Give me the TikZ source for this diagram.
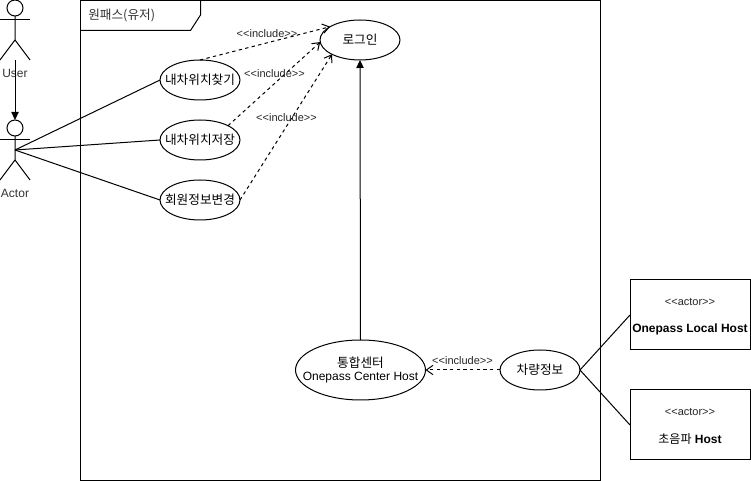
\documentclass[tikz,border=0pt]{standalone}
\usepackage{fontspec}
\setmainfont{Liberation Sans}
\newfontfamily\kr{Noto Sans CJK KR}
\usetikzlibrary{calc,shapes.geometric,arrows.meta}
\newcommand{\stereo}[1]{<{}<#1>{}>}
\tikzset{
  usecase/.style={ellipse,draw,line width=0.75pt,fill=white,minimum width=#1*0.75pt,minimum height=30pt,inner xsep=-15pt,inner ysep=0pt,outer sep=0pt,align=center,font=\fontsize{9.5}{11}\selectfont},
  usecase/.default=80,
  hostbox/.style={rectangle,draw,line width=0.75pt,fill=white,minimum width=90pt,minimum height=52.5pt,inner sep=0pt,outer sep=0pt},
  hostname/.style={inner sep=0pt,font=\fontsize{9}{11}\selectfont\bfseries},
  head/.style={circle,draw,line width=0.75pt,minimum size=12pt,inner sep=0pt,outer sep=0pt},
  actorlabel/.style={inner sep=0pt,font=\fontsize{9}{11}\selectfont,text=black!80},
  stereotype/.style={inner sep=0pt,font=\fontsize{8.25}{9}\selectfont,text=black!85},
  incl/.style={line width=0.75pt,dash pattern=on 2.5pt off 2.5pt,-{Straight Barb[length=5pt,width=7pt]}},
  assoc/.style={line width=0.75pt},
  solidtip/.style={line width=0.75pt,-{Triangle[length=6pt,width=5.5pt]}}
}
\begin{document}
\begin{tikzpicture}[x=0.75pt,y=-0.75pt]
      \useasboundingbox(0,0)rectangle(751,481);
      \draw[line width=0.75pt](80.5,0.5)rectangle(600.5,480.5);
      \draw[line width=0.75pt](80.5,30.5)--(190.5,30.5)--(200.5,15)--(200.5,0.5);
      \node[anchor=west,inner sep=0pt,font=\fontsize{9.5}{11}\selectfont\kr,text=black!80](frametitle)at(88,16){원패스(유저)};
      \foreach \nm/\yy/\lab in{user/0/User,actor/120/Actor}{
        \node[head](\nm-head)at(15,\yy+8){};
        \coordinate(\nm-mid)at(15,\yy+30);
        \coordinate(\nm-hip)at(15,\yy+40);
        \coordinate(\nm-foot)at(15,\yy+60);
        \draw[assoc](\nm-head.south)--(\nm-hip)--(0,\yy+60);
        \draw[assoc](\nm-hip)--(30,\yy+60);
        \draw[assoc](0,\yy+20)--(30,\yy+20);
        \node[actorlabel](\nm-label)at(15,\yy+73){\lab};
      }
      \node[usecase](find)at(200,80){\kr 내차위치찾기};
      \node[usecase](save)at(200,140){\kr 내차위치저장};
      \node[usecase](member)at(200,200){\kr 회원정보변경};
      \node[usecase](login)at(360,40){\kr 로그인};
      \node[usecase=130,minimum height=45pt](center)at(360.5,370){{\kr 통합센터}\\[-1.5pt]{\fontsize{9}{11}\selectfont Onepass Center Host}};
      \node[usecase](car)at(540,370){\kr 차량정보};
      \node[hostbox](localhost)at(690,315){};
      \node[hostbox](sonichost)at(690,425){};
      \node[stereotype](localtype)at(690,302){\stereo{actor}};
      \node[hostname](localname)at(690,329.5){Onepass Local Host};
      \node[stereotype](sonictype)at(690,411.5){\stereo{actor}};
      \node[hostname](sonicname)at(690,439){{\kr\mdseries 초음파} Host};
      \draw[solidtip](user-foot)--(actor-head.north);
      \draw[assoc](actor-mid)--(find.west);
      \draw[assoc](actor-mid)--(save.west);
      \draw[assoc](actor-mid)--(member.west);
      \draw[incl](find.north)--(login.156);
      \draw[incl](save.27)--(login.183);
      \draw[incl](member.east)--(login.207);
      \draw[solidtip](center.north)--(login.south);
      \draw[incl](car.west)--(center.east);
      \draw[assoc](car.east)--(localhost.west);
      \draw[assoc](car.east)--(sonichost.west);
      \node[stereotype](include1)at(267,34){\stereo{include}};
      \node[stereotype](include2)at(274.5,74){\stereo{include}};
      \node[stereotype](include3)at(286.5,118){\stereo{include}};
      \node[stereotype](include4)at(462.5,361){\stereo{include}};
    \end{tikzpicture}
\end{document}
